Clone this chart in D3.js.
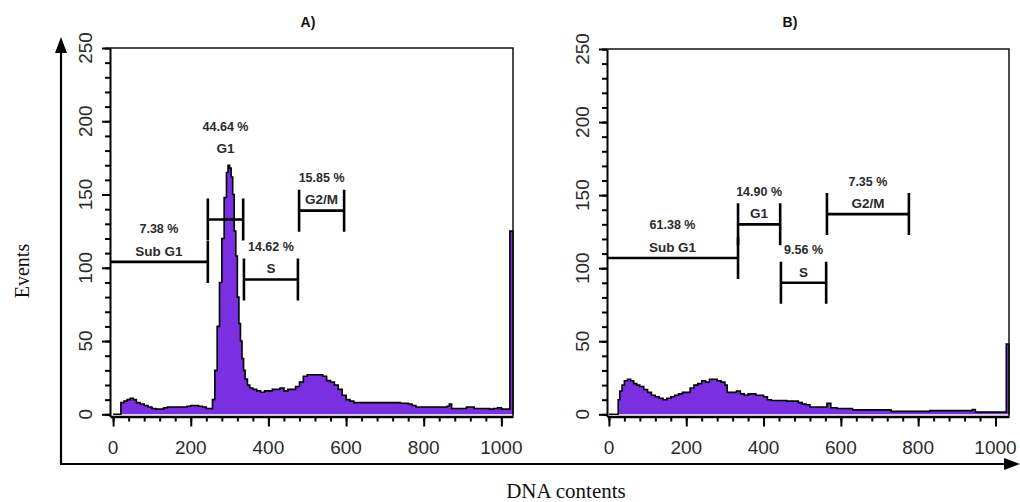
<!DOCTYPE html>
<html><head><meta charset="utf-8">
<script src="https://cdn.jsdelivr.net/npm/d3@7"></script>
<style>body{margin:0;background:#fff}svg{display:block}</style>
</head><body>
<svg id="chart" width="1020" height="502"></svg>
<script>
// ---------- data ----------
const panelTitles = ["A)", "B)"];
const xTickLabels = [0, 200, 400, 600, 800, 1000];
const yTickLabels = [0, 50, 100, 150, 200, 250];
const xAxisTitle = "DNA contents";
const yAxisTitle = "Events";

// Panel A histogram (channel, events) – step outline
const histAChannel = [0,18,20,28,36,44,52,60,70,80,90,100,110,120,130,140,150,160,170,180,190,200,210,220,230,240,250,256,262,268,274,280,286,292,296,300,304,308,312,316,320,324,328,332,336,340,346,352,360,370,380,390,400,410,420,430,440,450,460,470,480,490,500,510,520,530,540,550,560,570,580,590,600,610,620,640,660,680,700,720,740,760,770,780,800,820,840,860,866,872,900,910,920,930,960,970,980,990,1000,1010,1022,1030];
const histAEvents  = [0,0,8,9,10,11,10,8,7,6,5,4,3.5,3.5,4.5,5,5,5,5,5,5.5,6,6,5.5,5,4,4,10,30,60,90,120,148,165,170,168,162,150,125,108,80,62,50,38,30,24,20,18,17,16,15,16,16,17,17,18,16,17,17,19,22,26,27,27,27,27,26,23,22,20,17,13,10,9,8,8,8,8,8,8,7.5,7,6,5,5,5,5,5.5,7,4,4,5,5,4,4,3.5,4,4.5,3.5,3.5,125,0];

// Panel B histogram
const histBChannel = [0,22,24,28,34,40,48,56,64,72,80,90,100,110,120,130,140,150,160,170,180,190,200,210,220,230,240,250,260,270,280,290,300,306,320,330,340,350,360,380,400,410,420,440,460,480,490,500,510,520,540,560,564,574,590,610,630,650,700,730,800,830,900,940,948,1000,1028,1035];
const histBEvents  = [0,0,10,16,20,23,24,23,21,20,19,17,15,13,12,11,10,11,12,13,14,15,15,18,20,21,23,22,24,24,23,22,20,15,15,16,14,13,14,13,12,10,9.5,9.5,9,9,8,7,6.5,5,5,5,7.5,4.5,4,4,3,3,3,2,2,2.5,2.5,3.3,1.5,1.5,48,0];

// Gates: names, percentages, channel ranges, marker level (events)
const gateNames = ["Sub G1", "G1", "S", "G2/M"];
const gatePctA  = ["7.38 %", "44.64 %", "14.62 %", "15.85 %"];
const gateLoA   = [-8, 244, 337, 479];
const gateHiA   = [244, 335, 476, 595];
const gateLevelA = [104, 133, 92, 139];
const gateLabelLevelA = [104, 174, 92, 139];
const gatePctB  = ["61.38 %", "14.90 %", "9.56 %", "7.35 %"];
const gateLoB   = [-5, 334, 445, 564];
const gateHiB   = [334, 443, 562, 776];
const gateLevelB = [107, 130, 90, 137];
const gateLabelLevelB = [107, 130, 90, 137];

// ---------- drawing ----------
const svg = d3.select("#chart");
const FILL = "#7a2fe0";
const TICK_FONT = "Liberation Sans, Arial, sans-serif";

function drawPanel(p) {
  const g = svg.append("g");
  const x = d3.scaleLinear().domain(p.xDomain).range([p.left, p.right]);
  const y = d3.scaleLinear().domain([-1.5, 250]).range([p.bottom, p.top]);
  const pts = p.channels.map((c, i) => [c, p.events[i]]);

  // histogram fill + outline
  g.append("path").datum(pts)
    .attr("d", d3.area().x(d => x(d[0])).y0(y(0)).y1(d => y(d[1])).curve(d3.curveStepAfter))
    .attr("fill", FILL);
  g.append("path").datum(pts)
    .attr("d", d3.line().x(d => x(d[0])).y(d => y(d[1])).curve(d3.curveStepAfter))
    .attr("fill", "none").attr("stroke", "#000").attr("stroke-width", 1.6);

  // frame top + right
  g.append("path")
    .attr("d", `M${p.left},${p.top}H${p.right}V${p.bottom}`)
    .attr("fill", "none").attr("stroke", "#111").attr("stroke-width", 1.5);

  // left axis: minor + major ticks
  const yMinor = d3.range(0, 251, 10);
  const ya = g.append("g").attr("transform", `translate(${p.left},0)`);
  ya.call(d3.axisLeft(y).tickValues(yMinor).tickSize(5).tickSizeOuter(0).tickFormat(""));
  ya.append("g").call(d3.axisLeft(y).tickValues(yTickLabels).tickSize(8).tickSizeOuter(0).tickFormat(""))
    .select(".domain").remove();
  ya.selectAll("path,line").attr("stroke", "#000").attr("stroke-width", 2);
  ya.selectAll(".yl").data(yTickLabels).enter().append("text")
    .attr("transform", d => `translate(-24.5,${y(d)}) rotate(-90)`)
    .attr("text-anchor", "middle").attr("dy", "0.36em")
    .attr("font-family", TICK_FONT).attr("font-size", 19).attr("fill", "#2b2b2b")
    .text(d => d);

  // bottom axis
  const xMinor = d3.range(0, 1001, 40);
  const xa = g.append("g").attr("transform", `translate(0,${p.bottom})`);
  xa.call(d3.axisBottom(x).tickValues(xMinor).tickSize(5).tickSizeOuter(0).tickFormat(""));
  xa.append("g").call(d3.axisBottom(x).tickValues(xTickLabels).tickSize(10).tickSizeOuter(0).tickFormat(""))
    .select(".domain").remove();
  xa.selectAll("path,line").attr("stroke", "#000").attr("stroke-width", 2);
  xa.select(".domain").attr("stroke-width", 2.6);
  xa.selectAll(".xl").data(xTickLabels).enter().append("text")
    .attr("x", d => x(d)).attr("y", 31).attr("dy", "0.36em")
    .attr("text-anchor", "middle")
    .attr("font-family", TICK_FONT).attr("font-size", 19).attr("fill", "#2b2b2b")
    .text(d => d);

  // gates
  const H = 21;
  gateNames.forEach((name, i) => {
    const x0 = Math.max(x(p.lo[i]), p.left), x1 = x(p.hi[i]), gy = y(p.level[i]);
    g.append("path")
      .attr("d", `M${x0},${gy}H${x1}M${x1},${gy - H}V${gy + H}` + (p.lo[i] > 0 ? `M${x0},${gy - H}V${gy + H}` : ""))
      .attr("fill", "none").attr("stroke", "#000").attr("stroke-width", 2.6);
    const cx = (x0 + x1) / 2, ly = y(p.labelLevel[i]);
    g.append("text").attr("x", cx).attr("y", ly - 11).attr("dy", "0.36em")
      .attr("text-anchor", "middle").attr("font-family", TICK_FONT)
      .attr("font-weight", "bold").attr("font-size", 13.5).attr("fill", "#2a2a2a").text(name);
    g.append("text").attr("x", cx).attr("y", ly - 33).attr("dy", "0.36em")
      .attr("text-anchor", "middle").attr("font-family", TICK_FONT)
      .attr("font-weight", "bold").attr("font-size", 12.5).attr("fill", "#2a2a2a").text(p.pct[i]);
  });

  // title
  g.append("text").attr("x", p.titleX).attr("y", 22).attr("dy", "0.36em")
    .attr("text-anchor", "middle").attr("font-family", TICK_FONT)
    .attr("font-weight", "bold").attr("font-size", 14).attr("fill", "#111").text(p.title);
}

drawPanel({ title: panelTitles[0], titleX: 308, left: 110, right: 513, top: 48, bottom: 416.5,
  xDomain: [-8, 1030], channels: histAChannel, events: histAEvents,
  lo: gateLoA, hi: gateHiA, level: gateLevelA, labelLevel: gateLabelLevelA, pct: gatePctA });
drawPanel({ title: panelTitles[1], titleX: 790, left: 607, right: 1009, top: 49, bottom: 416.5,
  xDomain: [-5, 1035], channels: histBChannel, events: histBEvents,
  lo: gateLoB, hi: gateHiB, level: gateLevelB, labelLevel: gateLabelLevelB, pct: gatePctB });

// outer arrows
const ax = 61, ay = 464;
svg.append("path").attr("d", `M${ax},${ay}V50M${ax - 1},${ay}H1008`)
  .attr("fill", "none").attr("stroke", "#000").attr("stroke-width", 2.2);
svg.append("path").attr("d", `M${ax},37L${ax - 6},53L${ax + 6},53Z`).attr("fill", "#000");
svg.append("path").attr("d", `M1020,${ay}L1004,${ay - 6}L1004,${ay + 6}Z`).attr("fill", "#000");

svg.append("text").attr("transform", "translate(22,271) rotate(-90)")
  .attr("text-anchor", "middle").attr("dy", "0.36em")
  .attr("font-family", "Liberation Serif, Times New Roman, serif").attr("font-size", 20)
  .attr("fill", "#111").text(yAxisTitle);
svg.append("text").attr("x", 566).attr("y", 490).attr("dy", "0.36em")
  .attr("text-anchor", "middle")
  .attr("font-family", "Liberation Serif, Times New Roman, serif").attr("font-size", 21)
  .attr("fill", "#111").text(xAxisTitle);
</script>
</body></html>
